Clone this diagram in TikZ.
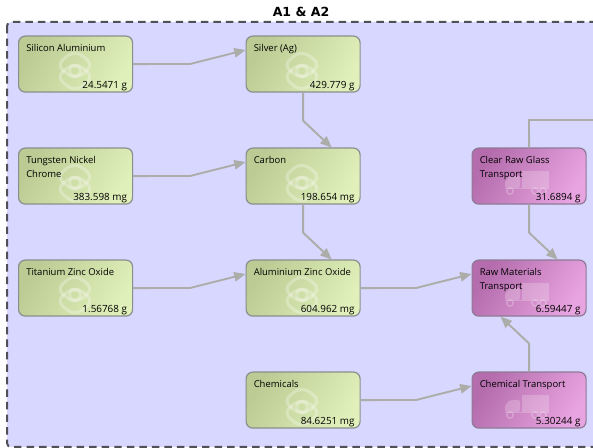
\documentclass[tikz,border=0pt]{standalone}
\usepackage{fontspec}
\setmainfont{Open Sans}
\newfontfamily\titlefont{DejaVu Sans}
\usetikzlibrary{arrows.meta,calc}
\definecolor{panelfill}{HTML}{D7D7FF}
\definecolor{dashcol}{HTML}{505058}
\definecolor{linkcol}{HTML}{ACACA8}
\definecolor{greenA}{HTML}{BBCB93}
\definecolor{greenM}{HTML}{D4E4AC}
\definecolor{greenB}{HTML}{E0F0BA}
\definecolor{purpleA}{HTML}{B46CAC}
\definecolor{purpleM}{HTML}{D490CA}
\definecolor{purpleB}{HTML}{E8A4E0}
\definecolor{edgeG}{HTML}{8A8F8E}
\definecolor{edgeP}{HTML}{8E7A96}
\tikzset{
  x=0.75pt,y=-0.75pt,
  boxbase/.style={draw,line width=0.9pt,rounded corners=5pt,minimum width=85.5pt,minimum height=42pt,anchor=north west,inner sep=0pt},
  matbox/.style={boxbase,draw=edgeG,shade,left color=greenA,middle color=greenM,right color=greenB,shading angle=58},
  procbox/.style={boxbase,draw=edgeP,shade,left color=purpleA,middle color=purpleM,right color=purpleB,shading angle=58},
  namelabel/.style={anchor=north west,font=\fontsize{7.1pt}{10.5pt}\selectfont,text=black,align=left,inner sep=0pt},
  valuelabel/.style={anchor=south east,font=\fontsize{7.4pt}{9pt}\selectfont,text=black,inner sep=0pt},
  link/.style={draw=linkcol,line width=1.4pt,-{Triangle[length=8.5pt,width=7pt]}},
  plainlink/.style={draw=linkcol,line width=1.4pt},
}
\newcommand{\greenmark}[1]{%
  \begin{scope}[shift={(#1)},white,opacity=0.27,line width=2.4pt]
    \draw[rounded corners=7pt] (0,-21) -- (19,-6) -- (0,9) -- (-19,-6) -- cycle;
    \draw[rounded corners=7pt] (0,-9) -- (19,6) -- (0,21) -- (-19,6) -- cycle;
    \draw (0,0) circle (5.5);
  \end{scope}}
\newcommand{\truckmark}[1]{%
  \begin{scope}[shift={(#1)},opacity=0.22]
    \fill[white] (-7,-7) rectangle (20,10);
    \fill[white,rounded corners=1.5pt] (-24,10) -- (-24,3) -- (-19,-2) -- (-9,-2) -- (-9,10) -- cycle;
    \fill[white] (-24,10) rectangle (20,11.5);
    \draw[white,line width=1.2pt] (-19,13) circle (3.2) (6,13) circle (3.2) (14,13) circle (3.2);
  \end{scope}}
\begin{document}
\begin{tikzpicture}
\useasboundingbox (0,0) rectangle (593,448);
\clip (0,0) rectangle (593,448);
\fill[white] (0,0) rectangle (593,448);
\coordinate (pnw) at (7,22);
\coordinate (pse) at (640,447);
\draw[fill=panelfill,draw=dashcol,line width=1.5pt,dash pattern=on 5.6pt off 3.8pt,rounded corners=3pt] (pnw) rectangle (pse);
\node[font=\titlefont\bfseries\fontsize{9.4pt}{11pt}\selectfont,inner sep=0pt] (title) at (301,12) {A1 \& A2};

\node[matbox] (si) at (18,35.5) {};
\node[matbox] (ag) at (245.5,35.5) {};
\node[matbox] (tu) at (18,147.5) {};
\node[matbox] (ca) at (245.5,147.5) {};
\node[matbox] (ti) at (18,259.5) {};
\node[matbox] (az) at (245.5,259.5) {};
\node[matbox] (ch) at (245.5,371.5) {};
\node[procbox] (gl) at (471.5,147.5) {};
\node[procbox] (rm) at (471.5,259.5) {};
\node[procbox] (ct) at (471.5,371.5) {};

\foreach \n/\x/\y in {si/75/71,ag/302/71,tu/75/183,ca/302/183,ti/75/295,az/302/295,ch/302/407}{\greenmark{\x,\y}}
\foreach \n/\x/\y in {gl/529/178,rm/529/290,ct/529/402}{\truckmark{\x,\y}}

\foreach \n/\t in {si/Silicon Aluminium,ag/Silver (Ag),tu/{Tungsten Nickel\\Chrome},ca/Carbon,ti/Titanium Zinc Oxide,az/Aluminium Zinc Oxide,ch/Chemicals,gl/{Clear Raw Glass\\Transport},rm/{Raw Materials\\Transport},ct/Chemical Transport}{
  \node[namelabel] (\n-name) at ($(\n.north west)+(8,9)$) {\t};}
\foreach \n/\t in {si/24.5471 g,ag/429.779 g,tu/383.598 mg,ca/198.654 mg,ti/1.56768 g,az/604.962 mg,ch/84.6251 mg,gl/31.6894 g,rm/6.59447 g,ct/5.30244 g}{
  \node[valuelabel] (\n-val) at ($(\n.south east)+(-6,-1.5)$) {\t};}

\coordinate (e1) at (190,64);
\coordinate (e2) at (190,176);
\coordinate (e3) at (190,288);
\coordinate (e4) at (416,288);
\coordinate (e5) at (416,400);
\draw[link] (si.east) -- (e1) -- ($(ag.north west)+(0,14.5)$);
\draw[link] (tu.east) -- (e2) -- ($(ca.north west)+(0,14.5)$);
\draw[link] (ti.east) -- (e3) -- ($(az.north west)+(0,14.5)$);
\draw[link] (az.east) -- (e4) -- ($(rm.north west)+(0,14.5)$);
\draw[link] (ch.east) -- (e5) -- ($(ct.north west)+(0,14.5)$);
\draw[link] (ag.south) -- ++(0,28) -- ($(ca.north)+(28.5,0)$);
\draw[link] (ca.south) -- ++(0,28) -- ($(az.north)+(28.5,0)$);
\draw[link] (gl.south) -- ++(0,28) -- ($(rm.north)+(28.5,0)$);
\draw[link] (ct.north) -- ++(0,-28) -- ($(rm.south)+(-28.5,0)$);
\coordinate (off) at (600,120);
\draw[plainlink] (gl.north) -- (529,120) -- (off);
\end{tikzpicture}
\end{document}
